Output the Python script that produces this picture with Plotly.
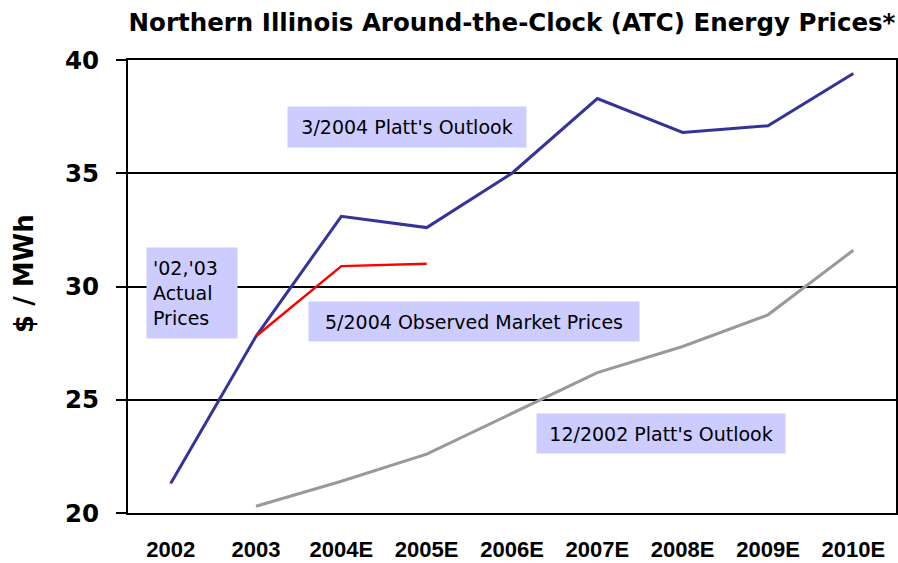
import plotly.graph_objects as go

# ---- data ----
years = ["2002", "2003", "2004E", "2005E", "2006E", "2007E", "2008E", "2009E", "2010E"]
outlook_2004 = [21.3, 27.8, 33.1, 32.6, 35.0, 38.3, 36.8, 37.1, 39.4]
outlook_2002_years = ["2003", "2004E", "2005E", "2006E", "2007E", "2008E", "2009E", "2010E"]
outlook_2002 = [20.3, 21.4, 22.6, 24.4, 26.2, 27.35, 28.75, 31.6]
observed_years = ["2003", "2004E", "2005E"]
observed_2004 = [27.8, 30.9, 31.0]
y_ticks = [20, 25, 30, 35, 40]
divider_year = "2003"

W, H = 898, 563
L, R, T, B = 128, 2, 60, 50
PW, PH = W - L - R, H - T - B


def px(x):
    return (x - L) / PW


def py(y):
    return (H - B - y) / PH


fig = go.Figure()
fig.add_trace(go.Scatter(x=years, y=outlook_2004, mode="lines",
                         line=dict(color="#333399", width=3), hoverinfo="skip"))
fig.add_trace(go.Scatter(x=outlook_2002_years, y=outlook_2002, mode="lines",
                         line=dict(color="#999999", width=3), hoverinfo="skip"))
fig.add_trace(go.Scatter(x=observed_years, y=observed_2004, mode="lines",
                         line=dict(color="#FF0000", width=2.5), hoverinfo="skip"))

fig.add_shape(type="line", xref="x", yref="paper", x0=divider_year, x1=divider_year,
              y0=0, y1=1, line=dict(color="black", width=1.2, dash="6px,4px"), layer="below")

label_font = dict(family="DejaVu Sans", size=19, color="black")
bg = "#CCCCFF"

def box(text, cx, cy, w, h, align="center", pad=0):
    fig.add_annotation(text=text, xref="paper", yref="paper", x=px(cx), y=py(cy),
                       xanchor="center", yanchor="middle", showarrow=False,
                       font=label_font, bgcolor=bg, width=w - 2 * pad, height=h - 2 * pad,
                       borderpad=pad, align=align, valign="middle")

box("3/2004 Platt's Outlook", 407, 127, 238, 40)
box("'02,'03<br>Actual<br>Prices", 192, 293, 90, 90, align="left", pad=6)
box("5/2004 Observed Market Prices", 474, 321.5, 330, 39)
box("12/2002 Platt's Outlook", 661, 433.5, 248, 39)

fig.add_annotation(text="$ / MWh", xref="paper", yref="paper", x=px(24), y=py(274),
                   xanchor="center", yanchor="middle", textangle=-90, showarrow=False,
                   font=dict(family="DejaVu Sans", size=26, color="black", weight="bold"))

fig.update_layout(
    width=W, height=H,
    margin=dict(l=L, r=R, t=T, b=B, autoexpand=False),
    paper_bgcolor="white", plot_bgcolor="white",
    showlegend=False,
    title=dict(text="Northern Illinois Around-the-Clock (ATC) Energy Prices*",
               x=0.5, xref="paper", xanchor="center",
               y=1 - 22.5 / H, yref="container", yanchor="middle",
               font=dict(family="DejaVu Sans", size=24.5, color="black", weight="bold")),
    xaxis=dict(type="category", categoryorder="array", categoryarray=years,
               range=[-0.5, len(years) - 0.5], automargin=False,
               showline=True, linecolor="black", linewidth=2, mirror=True,
               showgrid=False, ticks="", ticklabelstandoff=16,
               tickfont=dict(family="Liberation Sans", size=22, color="black", weight="bold"),
               fixedrange=True),
    yaxis=dict(range=[20, 40], tickvals=y_ticks, ticktext=[str(v) for v in y_ticks],
               automargin=False,
               showline=True, linecolor="black", linewidth=2, mirror=True,
               showgrid=True, gridcolor="black", gridwidth=1.5,
               ticks="outside", ticklen=10, tickwidth=1.5, tickcolor="black",
               ticklabelstandoff=12,
               tickfont=dict(family="DejaVu Sans", size=24.5, color="black", weight="bold"),
               zeroline=False, fixedrange=True),
    hovermode=False,
)

fig.write_html("out.html", config={"displayModeBar": False},
               post_script="document.body.style.margin='0';document.body.style.overflow='hidden';")
